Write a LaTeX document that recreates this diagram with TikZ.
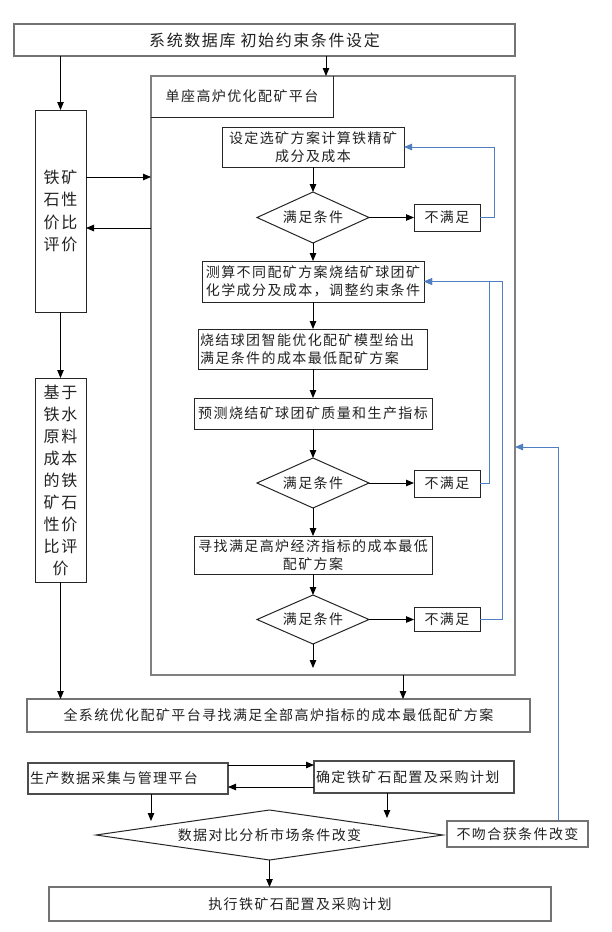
\documentclass[tikz,border=0pt]{standalone}
\usepackage{fontspec}
\setmainfont{Liberation Serif}
\newfontfamily\cjk{Noto Sans CJK SC}[LetterSpace=10]
\usetikzlibrary{arrows.meta}
\definecolor{lineblue}{HTML}{4F7EC2}
\definecolor{txt}{HTML}{222222}
\begin{document}
\begin{tikzpicture}[x=1pt,y=-1pt,
  every node/.style={font=\cjk\fontsize{14}{18.5}\selectfont, text=txt, inner sep=0pt, outer sep=0pt},
  arr/.style={-{Triangle[length=8pt,width=6.5pt]}, line width=0.9pt, draw=black},
  barr/.style={-{Triangle[length=8pt,width=6.5pt]}, line width=1pt, draw=lineblue},
  ibox/.style={draw=black!85, line width=1pt, align=center},
  obox/.style={draw=black!55, line width=1.5pt, align=center},
  dshape/.style={draw=black!85, line width=1pt, line join=miter},
  bigfont/.style={font=\cjk\fontsize{16}{22.3}\selectfont}
]
\useasboundingbox (0,0) rectangle (612,932);
\fill[white] (0,0) rectangle (612,932);

% top
\node[obox, bigfont, minimum width=501pt, minimum height=32pt] (top) at (264.5,40) {系统数据库\hspace{5pt}初始约束条件设定};

% platform
\node[draw=black!50, line width=1.5pt, minimum width=364pt, minimum height=599pt] (plat) at (333,375.5) {};
\node[minimum width=182pt, minimum height=41pt] (lbl) at (242,96.5) {单座高炉优化配矿平台};
\draw[black!85, line width=1pt] (lbl.north east) -- (lbl.south east) -- (lbl.south west);

% left column
\node[ibox, bigfont, minimum width=51pt, minimum height=202pt] (left1) at (60.5,211) {铁矿\\石性\\价比\\评价};
\node[ibox, bigfont, font=\cjk\fontsize{16}{22}\selectfont, minimum width=51pt, minimum height=204pt] (left2) at (60.5,480) {基于\\铁水\\原料\\成本\\的铁\\矿石\\性价\\比评\\价};

% inner flow
\node[ibox, minimum width=182pt, minimum height=40pt] (box1) at (313,147) {设定选矿方案计算铁精矿\\成分及成本};
\node[minimum width=112pt, minimum height=51pt] (dia1) at (313,217.5) {满足条件};
\draw[dshape] (dia1.west) -- (dia1.north) -- (dia1.east) -- (dia1.south) -- cycle;
\node[ibox, minimum width=66pt, minimum height=27pt] (nm1) at (447,217.5) {不满足};

\node[ibox, minimum width=222pt, minimum height=41pt] (box2) at (313,281.5) {测算不同配矿方案烧结矿球团矿\\化学成分及成本，调整约束条件};
\node[ibox, align=left, text width=225pt, inner xsep=2pt, minimum height=40pt] (box3) at (312.5,349) {烧结球团智能优化配矿模型给出\\满足条件的成本最低配矿方案};
\node[ibox, minimum width=238pt, minimum height=31pt] (box4) at (313,413.5) {预测烧结矿球团矿质量和生产指标};
\node[minimum width=112pt, minimum height=50pt] (dia2) at (313,483) {满足条件};
\draw[dshape] (dia2.west) -- (dia2.north) -- (dia2.east) -- (dia2.south) -- cycle;
\node[ibox, minimum width=66pt, minimum height=27pt] (nm2) at (447,483.5) {不满足};

\node[ibox, minimum width=238pt, minimum height=38pt] (box5) at (313,555) {寻找满足高炉经济指标的成本最低\\配矿方案};
\node[minimum width=112pt, minimum height=49pt] (dia3) at (313,619.5) {满足条件};
\draw[dshape] (dia3.west) -- (dia3.north) -- (dia3.east) -- (dia3.south) -- cycle;
\node[ibox, minimum width=66pt, minimum height=24pt] (nm3) at (447,619.5) {不满足};
\coordinate (endp) at (313,668);

% lower part
\node[obox, minimum width=503pt, minimum height=33pt] (all) at (278.5,715.5) {全系统优化配矿平台寻找满足全部高炉指标的成本最低配矿方案};
\node[draw=black!70, line width=1.2pt, align=left, text width=196pt, inner xsep=2pt, minimum height=31pt] (prod) at (128,778.5) {生产数据采集与管理平台};
\node[draw=black!70, line width=1.2pt, align=left, text width=196pt, inner xsep=2pt, minimum height=32pt] (plan) at (414,777) {确定铁矿石配置及采购计划};
\node[minimum width=347pt, minimum height=50pt] (dia4) at (269.5,835) {数据对比分析市场条件改变};
\draw[dshape] (dia4.west) -- (dia4.north) -- (dia4.east) -- (dia4.south) -- cycle;
\node[obox, minimum width=141pt, minimum height=26pt] (nm4) at (517.5,834) {不吻合获条件改变};
\node[obox, minimum width=502pt, minimum height=34pt] (exec) at (300,904) {执行铁矿石配置及采购计划};
\coordinate (d1) at (151,821);
\coordinate (d2) at (387,818);

% black connectors
\draw[arr] (top.south -| left1.north) -- (left1.north);
\draw[arr] ([xshift=-7pt]plat.north |- top.south) -- ([xshift=-7pt]plat.north);
\draw[arr] ([yshift=34pt]left1.east) -- ([yshift=34pt]left1.east -| plat.west);
\draw[arr] ([yshift=-17pt]left1.east -| plat.west) -- ([yshift=-17pt]left1.east);
\draw[arr] (left1.south) -- (left2.north);
\draw[arr] (left2.south) -- (left2.south |- all.north);
\draw[arr] ([xshift=70pt]plat.south) -- ([xshift=70pt]plat.south |- all.north);

\draw[arr] (box1.south) -- (dia1.north);
\draw[arr] (dia1.east) -- (nm1.west);
\draw[arr] (dia1.south) -- (box2.north);
\draw[arr] (box2.south) -- (box2.south |- box3.north);
\draw[arr] (box2.south |- box3.south) -- (box4.north);
\draw[arr] (box4.south) -- (dia2.north);
\draw[arr] (dia2.east) -- (dia2.east -| nm2.west);
\draw[arr] (dia2.south) -- (box5.north);
\draw[arr] (box5.south) -- (dia3.north);
\draw[arr] (dia3.east) -- (nm3.west);
\draw[arr] (dia3.south) -- (endp);

\draw[arr] ([yshift=13.5pt]prod.east) -- ([yshift=13.5pt]prod.east -| plan.west);
\draw[arr] ([yshift=-8.5pt]prod.east -| plan.west) -- ([yshift=-8.5pt]prod.east);
\draw[arr] ([xshift=23pt]prod.south) -- (d1);
\draw[arr] ([xshift=-27pt]plan.south) -- (d2);
\draw[arr] (dia4.south) -- (dia4.south |- exec.north);

% blue feedback
\draw[barr] (nm1.east) -- ++(14,0) |- (box1.east);
\draw[barr] (nm2.east) -- ++(9,0) |- (box2.east);
\draw[barr] (nm3.east) -- ++(22,0) |- (box2.east);
\draw[barr] ([xshift=40.5pt]nm4.north) |- ([yshift=-71.5pt]plat.east);
\end{tikzpicture}
\end{document}
